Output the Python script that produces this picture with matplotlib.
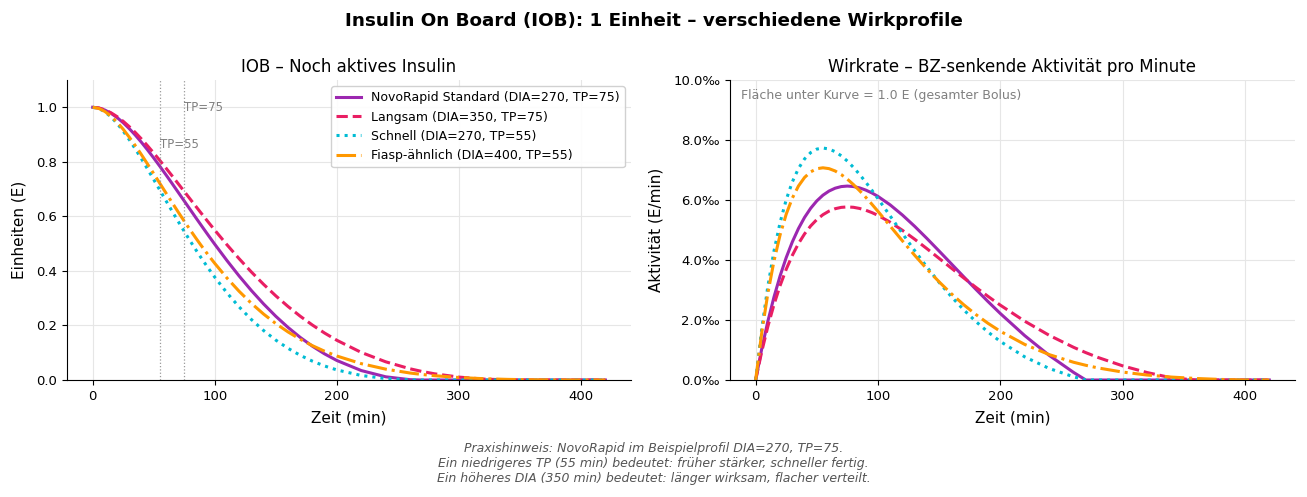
import matplotlib
matplotlib.use("Agg")
import matplotlib.pyplot as plt
from matplotlib.ticker import FuncFormatter, MultipleLocator

# Time axis (min)
t = [0, 5, 10, 15, 20, 25, 30, 35, 40, 45, 50, 55, 60, 65, 70, 75, 80, 85, 90, 95,
     100, 110, 120, 130, 140, 150, 160, 170, 180, 190, 200, 220, 240, 260, 270, 280,
     300, 320, 340, 360, 380, 400, 420]

labels = ["NovoRapid Standard (DIA=270, TP=75)", "Langsam (DIA=350, TP=75)",
          "Schnell (DIA=270, TP=55)", "Fiasp-ähnlich (DIA=400, TP=55)"]

# IOB (units)
iob_novo = [1.0, 0.9974, 0.9898, 0.9779, 0.9623, 0.9434, 0.9216, 0.8975, 0.8713, 0.8434,
            0.8141, 0.7838, 0.7526, 0.7209, 0.6887, 0.6565, 0.6242, 0.5920, 0.5602, 0.5287,
            0.4978, 0.4380, 0.3812, 0.3281, 0.2789, 0.2337, 0.1929, 0.1563, 0.1239, 0.0957,
            0.0716, 0.0347, 0.0118, 0.0012, 0.0, 0.0, 0.0, 0.0, 0.0, 0.0, 0.0, 0.0, 0.0]
iob_slow = [1.0, 0.9976, 0.9907, 0.9799, 0.9657, 0.9486, 0.9289, 0.9071, 0.8836, 0.8585,
            0.8323, 0.8051, 0.7773, 0.7489, 0.7202, 0.6914, 0.6626, 0.6339, 0.6054, 0.5773,
            0.5496, 0.4959, 0.4446, 0.3961, 0.3508, 0.3086, 0.2697, 0.2340, 0.2015, 0.1721,
            0.1457, 0.1012, 0.0668, 0.0411, 0.0311, 0.0228, 0.0107, 0.0035, 0.0004, 0.0,
            0.0, 0.0, 0.0]
iob_fast = [1.0, 0.9956, 0.9834, 0.9648, 0.9408, 0.9126, 0.8810, 0.8468, 0.8107, 0.7733,
            0.7350, 0.6964, 0.6578, 0.6195, 0.5818, 0.5449, 0.5089, 0.4740, 0.4404, 0.4081,
            0.3771, 0.3195, 0.2678, 0.2218, 0.1814, 0.1463, 0.1162, 0.0906, 0.0691, 0.0514,
            0.0370, 0.0166, 0.0053, 0.0005, 0.0, 0.0, 0.0, 0.0, 0.0, 0.0, 0.0, 0.0, 0.0]
iob_fiasp = [1.0, 0.9959, 0.9846, 0.9674, 0.9453, 0.9193, 0.8903, 0.8589, 0.8258, 0.7915,
             0.7566, 0.7212, 0.6859, 0.6509, 0.6163, 0.5824, 0.5494, 0.5173, 0.4863, 0.4564,
             0.4277, 0.3739, 0.3251, 0.2811, 0.2418, 0.2070, 0.1763, 0.1493, 0.1259, 0.1055,
             0.0880, 0.0600, 0.0399, 0.0256, 0.0202, 0.0158, 0.0092, 0.0049, 0.0023, 0.0009,
             0.0002, 0.0, 0.0]

# Activity (E/min)
act_novo = [0.0, 0.001040, 0.001959, 0.002766, 0.003471, 0.004081, 0.004604, 0.005048,
            0.005420, 0.005725, 0.005970, 0.006160, 0.006299, 0.006394, 0.006448, 0.006465,
            0.006449, 0.006404, 0.006332, 0.006237, 0.006121, 0.005838, 0.005500, 0.005124,
            0.004720, 0.004300, 0.003874, 0.003447, 0.003026, 0.002615, 0.002219, 0.001480,
            0.000822, 0.000252, 0.0, 0.0, 0.0, 0.0, 0.0, 0.0, 0.0, 0.0, 0.0]
act_slow = [0.0, 0.000951, 0.001786, 0.002515, 0.003147, 0.003691, 0.004155, 0.004546,
            0.004871, 0.005136, 0.005347, 0.005510, 0.005630, 0.005710, 0.005755, 0.005770,
            0.005757, 0.005719, 0.005660, 0.005582, 0.005488, 0.005260, 0.004991, 0.004694,
            0.004379, 0.004055, 0.003730, 0.003407, 0.003092, 0.002788, 0.002497, 0.001961,
            0.001491, 0.001089, 0.000912, 0.000751, 0.000473, 0.000250, 0.000073, 0.0,
            0.0, 0.0, 0.0]
act_fast = [0.0, 0.001704, 0.003126, 0.004298, 0.005250, 0.006011, 0.006604, 0.007050,
            0.007370, 0.007581, 0.007697, 0.007733, 0.007701, 0.007611, 0.007474, 0.007297,
            0.007087, 0.006853, 0.006598, 0.006328, 0.006047, 0.005469, 0.004885, 0.004314,
            0.003768, 0.003255, 0.002780, 0.002345, 0.001952, 0.001600, 0.001287, 0.000772,
            0.000385, 0.000106, 0.0, 0.0, 0.0, 0.0, 0.0, 0.0, 0.0, 0.0, 0.0]
act_fiasp = [0.0, 0.001581, 0.002892, 0.003968, 0.004838, 0.005528, 0.006064, 0.006466,
             0.006752, 0.006939, 0.007043, 0.007074, 0.007046, 0.006968, 0.006848, 0.006694,
             0.006513, 0.006311, 0.006093, 0.005862, 0.005623, 0.005132, 0.004639, 0.004159,
             0.003702, 0.003273, 0.002877, 0.002514, 0.002185, 0.001890, 0.001626, 0.001186,
             0.000847, 0.000591, 0.000490, 0.000402, 0.000265, 0.000166, 0.000098, 0.000051,
             0.000020, 0.0, 0.0]

tp_marks = [55, 75]
tp_text_y = [0.865, 1.0]

colors = ["#9C27B0", "#E91E63", "#00BCD4", "#FF9800"]
styles = ["-", "--", ":", "-."]
iobs = [iob_novo, iob_slow, iob_fast, iob_fiasp]
acts = [act_novo, act_slow, act_fast, act_fiasp]

fig = plt.figure(figsize=(13.07, 4.97), dpi=100)
ax1 = fig.add_axes([0.0513, 0.2354, 0.4315, 0.6036])
ax2 = fig.add_axes([0.5585, 0.2354, 0.4323, 0.6036])

for y, c, s, lab in zip(iobs, colors, styles, labels):
    ax1.plot(t, y, color=c, linestyle=s, linewidth=2.2, label=lab)
for y, c, s, lab in zip(acts, colors, styles, labels):
    ax2.plot(t, y, color=c, linestyle=s, linewidth=2.2, label=lab)

for tp, ty in zip(tp_marks, tp_text_y):
    ax1.axvline(tp, color="gray", linestyle=":", linewidth=0.9, alpha=0.8)
    ax1.text(tp, ty, f"TP={tp}", color="gray", fontsize=8.5, ha="left", va="center")

ax1.set_ylim(0, 1.1)
ax1.yaxis.set_major_locator(MultipleLocator(0.2))
ax1.set_title("IOB – Noch aktives Insulin", fontsize=12)
ax1.set_xlabel("Zeit (min)", fontsize=11, labelpad=5.5)
ax1.set_ylabel("Einheiten (E)", fontsize=11, labelpad=7)
ax1.legend(loc="upper right", fontsize=9, framealpha=0.9)

ax2.set_ylim(0, 0.010)
ax2.yaxis.set_major_locator(MultipleLocator(0.002))
ax2.yaxis.set_major_formatter(FuncFormatter(lambda v, p: f"{v*1000:.1f}‰"))
ax2.set_title("Wirkrate – BZ-senkende Aktivität pro Minute", fontsize=12)
ax2.set_xlabel("Zeit (min)", fontsize=11, labelpad=5.5)
ax2.set_ylabel("Aktivität (E/min)", fontsize=11, labelpad=7)
ax2.text(0.02, 0.97, "Fläche unter Kurve = 1.0 E (gesamter Bolus)", transform=ax2.transAxes,
         color="gray", fontsize=9, va="top")

for ax in (ax1, ax2):
    ax.grid(True, color="#e6e6e6", linewidth=0.8)
    ax.set_axisbelow(True)
    ax.spines["top"].set_visible(False)
    ax.spines["right"].set_visible(False)
    ax.tick_params(labelsize=9.5)
    ax.xaxis.set_major_locator(MultipleLocator(100))

fig.suptitle("Insulin On Board (IOB): 1 Einheit – verschiedene Wirkprofile",
             fontsize=13.2, fontweight="bold", y=0.975)

fig.text(0.5, 0.025,
         "Praxishinweis: NovoRapid im Beispielprofil DIA=270, TP=75.\n"
         "Ein niedrigeres TP (55 min) bedeutet: früher stärker, schneller fertig.\n"
         "Ein höheres DIA (350 min) bedeutet: länger wirksam, flacher verteilt.",
         ha="center", va="bottom", fontsize=9, style="italic", color="#555555")

fig.savefig("out.png", dpi=100)
